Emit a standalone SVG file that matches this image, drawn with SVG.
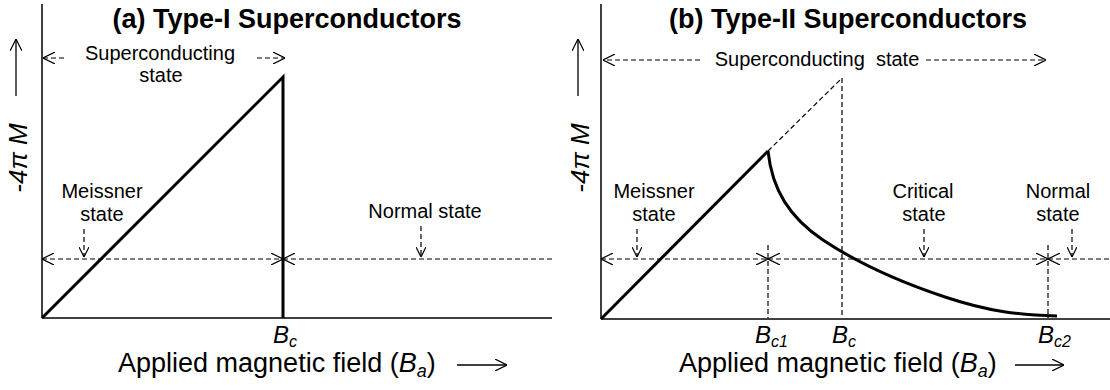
<svg xmlns="http://www.w3.org/2000/svg" width="1110" height="390" viewBox="0 0 1110 390">
<style>
text{font-family:"Liberation Sans",Arial,sans-serif;fill:#000}
.title{font-size:27px;font-weight:bold;text-anchor:middle}
.lbl{font-size:20px;text-anchor:middle}
.ax{font-size:27px}
.yl{font-size:26px}
.it{font-style:italic}
.axis{stroke:#000;stroke-width:1.5;fill:none}
.thick{stroke:#000;stroke-width:3;fill:none}
.dash{stroke:#000;stroke-width:1.2;stroke-dasharray:5,3;fill:none}
.solid{stroke:#000;stroke-width:1.3;fill:none}
</style>
<defs>
<marker id="ah" viewBox="0 0 12 12" markerWidth="12" markerHeight="12" refX="12" refY="6" orient="auto-start-reverse" markerUnits="userSpaceOnUse">
<path d="M0,0 L12,6 L0,12" fill="none" stroke="#000" stroke-width="1.2" stroke-dasharray="none"/>
</marker>
<marker id="as" viewBox="0 0 10 10" markerWidth="10" markerHeight="10" refX="10" refY="5" orient="auto-start-reverse" markerUnits="userSpaceOnUse">
<path d="M0,0 L10,5 L0,10" fill="none" stroke="#000" stroke-width="1.2" stroke-dasharray="none"/>
</marker>
</defs>

<g id="panel-a">
<g id="axes-a">
<line class="axis" x1="42" y1="4" x2="42" y2="318"/>
<line class="axis" x1="42" y1="318" x2="552" y2="318"/>
</g>
<g id="title-a"><text class="title" x="287" y="28">(a) Type-I Superconductors</text></g>
<g id="ylabel-a">
<line class="solid" x1="16" y1="96" x2="16" y2="39" marker-end="url(#ah)"/>
<text class="yl it" transform="translate(27,158) rotate(-90)" text-anchor="middle">-4π M</text>
</g>
<g id="curve-a">
<polyline class="thick" points="42,318 283,77 283,318"/>
</g>
<g id="sc-a">
<text class="lbl" x="160" y="60">Superconducting</text>
<text class="lbl" x="161" y="82">state</text>
</g>
<g id="meissner-a">
<text class="lbl" x="102" y="198">Meissner</text>
<text class="lbl" x="102" y="221">state</text>
</g>
<g id="normal-a"><text class="lbl" x="425" y="218">Normal state</text></g>
<g id="bc-a"><text x="273" y="343"><tspan class="it" font-size="24">B</tspan><tspan class="it" font-size="16" dy="4">c</tspan></text></g>
<g id="xlabel-a">
<text class="ax" x="118" y="372">Applied magnetic field (<tspan class="it">B</tspan><tspan class="it" font-size="18" dy="5">a</tspan><tspan dy="-5">)</tspan></text>
<line class="solid" x1="457" y1="365" x2="507" y2="365" marker-end="url(#ah)"/>
</g>
</g>

<g id="panel-b">
<g id="axes-b">
<line class="axis" x1="601" y1="4" x2="601" y2="319"/>
<line class="axis" x1="601" y1="319" x2="1110" y2="319"/>
</g>
<g id="title-b"><text class="title" x="848" y="28">(b) Type-II Superconductors</text></g>
<g id="ylabel-b">
<line class="solid" x1="578" y1="96" x2="578" y2="39" marker-end="url(#ah)"/>
<text class="yl it" transform="translate(589,158) rotate(-90)" text-anchor="middle">-4π M</text>
</g>
<g id="curve-b">
<line class="thick" x1="601" y1="319" x2="768" y2="151"/>
<path class="thick" d="M768,151 C772,190 790,218 823,240 S900,282 945,297 S1020,315 1057,316"/>
<line class="dash" x1="768" y1="151" x2="842" y2="78"/>
</g>
<g id="sc-b"><text class="lbl" x="817" y="66" xml:space="preserve">Superconducting  state</text></g>
<g id="meissner-b">
<text class="lbl" x="654" y="198">Meissner</text>
<text class="lbl" x="654" y="221">state</text>
</g>
<g id="critical-b">
<text class="lbl" x="923" y="198">Critical</text>
<text class="lbl" x="924" y="221">state</text>
</g>
<g id="normal-b">
<text class="lbl" x="1058" y="198">Normal</text>
<text class="lbl" x="1058" y="221">state</text>
</g>
<g id="bc-labels-b">
<text x="755" y="343"><tspan class="it" font-size="24">B</tspan><tspan class="it" font-size="16" dy="4">c1</tspan></text>
<text x="832" y="343"><tspan class="it" font-size="24">B</tspan><tspan class="it" font-size="16" dy="4">c</tspan></text>
<text x="1038" y="343"><tspan class="it" font-size="24">B</tspan><tspan class="it" font-size="16" dy="4">c2</tspan></text>
</g>
<g id="xlabel-b">
<text class="ax" x="679" y="372">Applied magnetic field (<tspan class="it">B</tspan><tspan class="it" font-size="18" dy="5">a</tspan><tspan dy="-5">)</tspan></text>
<line class="solid" x1="1015" y1="365" x2="1064" y2="365" marker-end="url(#ah)"/>
</g>
</g>

<g id="connectors">
<line class="dash" x1="64" y1="58" x2="43" y2="58" marker-end="url(#ah)"/>
<line class="dash" x1="257" y1="58" x2="285" y2="58" marker-end="url(#ah)"/>
<line class="dash" x1="42" y1="259" x2="283" y2="259" marker-start="url(#ah)" marker-end="url(#ah)"/>
<line class="dash" x1="283" y1="259" x2="552" y2="259" marker-start="url(#ah)"/>
<line class="dash" x1="84" y1="229" x2="84" y2="257" marker-end="url(#as)"/>
<line class="dash" x1="421" y1="226" x2="421" y2="257" marker-end="url(#as)"/>

<line class="dash" x1="700" y1="60" x2="603" y2="60" marker-end="url(#ah)"/>
<line class="dash" x1="926" y1="60" x2="1046" y2="60" marker-end="url(#ah)"/>
<line class="dash" x1="842" y1="78" x2="842" y2="318"/>
<line class="dash" x1="768" y1="245" x2="768" y2="318"/>
<line class="dash" x1="1048" y1="245" x2="1048" y2="318"/>
<line class="dash" x1="601" y1="259" x2="768" y2="259" marker-start="url(#ah)" marker-end="url(#ah)"/>
<line class="dash" x1="768" y1="259" x2="1048" y2="259" marker-start="url(#ah)" marker-end="url(#ah)"/>
<line class="dash" x1="1048" y1="259" x2="1110" y2="259" marker-start="url(#ah)"/>
<line class="dash" x1="637" y1="229" x2="637" y2="257" marker-end="url(#as)"/>
<line class="dash" x1="924" y1="229" x2="924" y2="257" marker-end="url(#as)"/>
<line class="dash" x1="1072" y1="229" x2="1072" y2="257" marker-end="url(#as)"/>
</g>
</svg>
